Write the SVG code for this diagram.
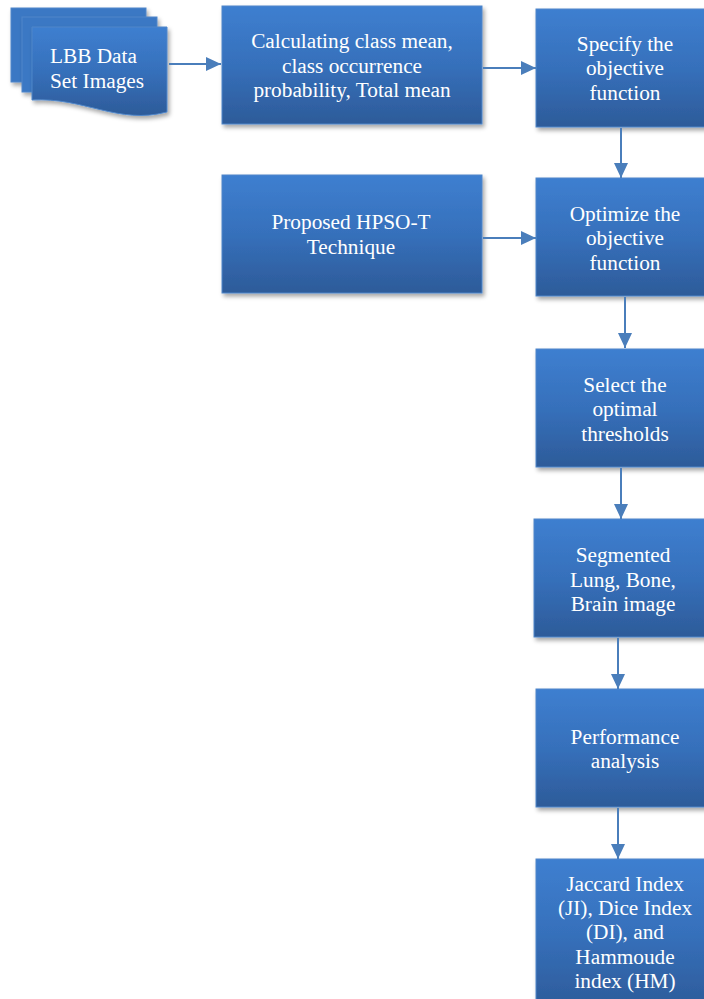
<svg xmlns="http://www.w3.org/2000/svg" width="704" height="999" viewBox="0 0 704 999">
<defs>
<linearGradient id="g" x1="0" y1="0" x2="0" y2="1">
<stop offset="0" stop-color="#3e7fd0"/>
<stop offset="0.5" stop-color="#3670bb"/>
<stop offset="1" stop-color="#2d5b99"/>
</linearGradient>
<filter id="sh" x="-10%" y="-10%" width="130%" height="130%">
<feDropShadow dx="2" dy="3" stdDeviation="2" flood-color="#000" flood-opacity="0.35"/>
</filter>
<marker id="ah" markerUnits="userSpaceOnUse" markerWidth="16" markerHeight="16" refX="15" refY="7" orient="auto">
<path d="M0,0 L15,7 L0,14 Z" fill="#4a7ebb"/>
</marker>
</defs>
<style>
.box{fill:url(#g);stroke:#4f86c9;stroke-width:1;filter:url(#sh)}
.pg{fill:#3b78c4;stroke:#4f86c9;stroke-width:1;filter:url(#sh)}
.t{font-family:"Liberation Serif","Times New Roman",serif;font-size:21.3px;fill:#ffffff;text-anchor:middle}
.c{stroke:#4a7ebb;stroke-width:2;fill:none;marker-end:url(#ah)}
</style>
<rect width="704" height="999" fill="#ffffff"/>
<g id="n1">
<rect class="pg" x="11" y="8" width="135" height="74"/>
<rect class="pg" x="22" y="17" width="135" height="75"/>
<path class="box" d="M32,27 L167,27 L167,112 C118,125 84,97 32,100 Z"/>
<text class="t" style="text-anchor:start" x="50" y="63">LBB Data</text>
<text class="t" style="text-anchor:start" x="50" y="88">Set Images</text>
</g>
<g id="n2">
<rect class="box" x="222" y="6" width="260" height="118"/>
<text class="t" x="352" y="48">Calculating class mean,</text>
<text class="t" x="352" y="73">class occurrence</text>
<text class="t" x="352" y="97">probability, Total mean</text>
</g>
<g id="n3">
<rect class="box" x="536" y="9" width="178" height="118"/>
<text class="t" x="625" y="51">Specify the</text>
<text class="t" x="625" y="75">objective</text>
<text class="t" x="625" y="100">function</text>
</g>
<g id="n4">
<rect class="box" x="222" y="175" width="260" height="118"/>
<text class="t" x="351" y="229">Proposed HPSO-T</text>
<text class="t" x="351" y="254">Technique</text>
</g>
<g id="n5">
<rect class="box" x="536" y="178" width="178" height="118"/>
<text class="t" x="625" y="221">Optimize the</text>
<text class="t" x="625" y="245">objective</text>
<text class="t" x="625" y="270">function</text>
</g>
<g id="n6">
<rect class="box" x="536" y="349" width="178" height="118"/>
<text class="t" x="625" y="392">Select the</text>
<text class="t" x="625" y="416">optimal</text>
<text class="t" x="625" y="441">thresholds</text>
</g>
<g id="n7">
<rect class="box" x="534" y="519" width="178" height="118"/>
<text class="t" x="623" y="562">Segmented</text>
<text class="t" x="623" y="587">Lung, Bone,</text>
<text class="t" x="623" y="611">Brain image</text>
</g>
<g id="n8">
<rect class="box" x="536" y="689" width="178" height="118"/>
<text class="t" x="625" y="744">Performance</text>
<text class="t" x="625" y="768">analysis</text>
</g>
<g id="n9">
<rect class="box" x="536" y="859" width="178" height="150"/>
<text class="t" x="625" y="891">Jaccard Index</text>
<text class="t" x="625" y="915">(JI), Dice Index</text>
<text class="t" x="625" y="939">(DI), and</text>
<text class="t" x="625" y="964">Hammoude</text>
<text class="t" x="625" y="988">index (HM)</text>
</g>
<g id="connectors">
<line class="c" x1="169" y1="64" x2="221" y2="64"/>
<line class="c" x1="483" y1="68" x2="536" y2="68"/>
<line class="c" x1="483" y1="238" x2="536" y2="238"/>
<line class="c" x1="621" y1="128" x2="621" y2="178"/>
<line class="c" x1="625" y1="297" x2="625" y2="348"/>
<line class="c" x1="621" y1="468" x2="621" y2="519"/>
<line class="c" x1="618" y1="638" x2="618" y2="689"/>
<line class="c" x1="618" y1="808" x2="618" y2="859"/>
</g>
</svg>
